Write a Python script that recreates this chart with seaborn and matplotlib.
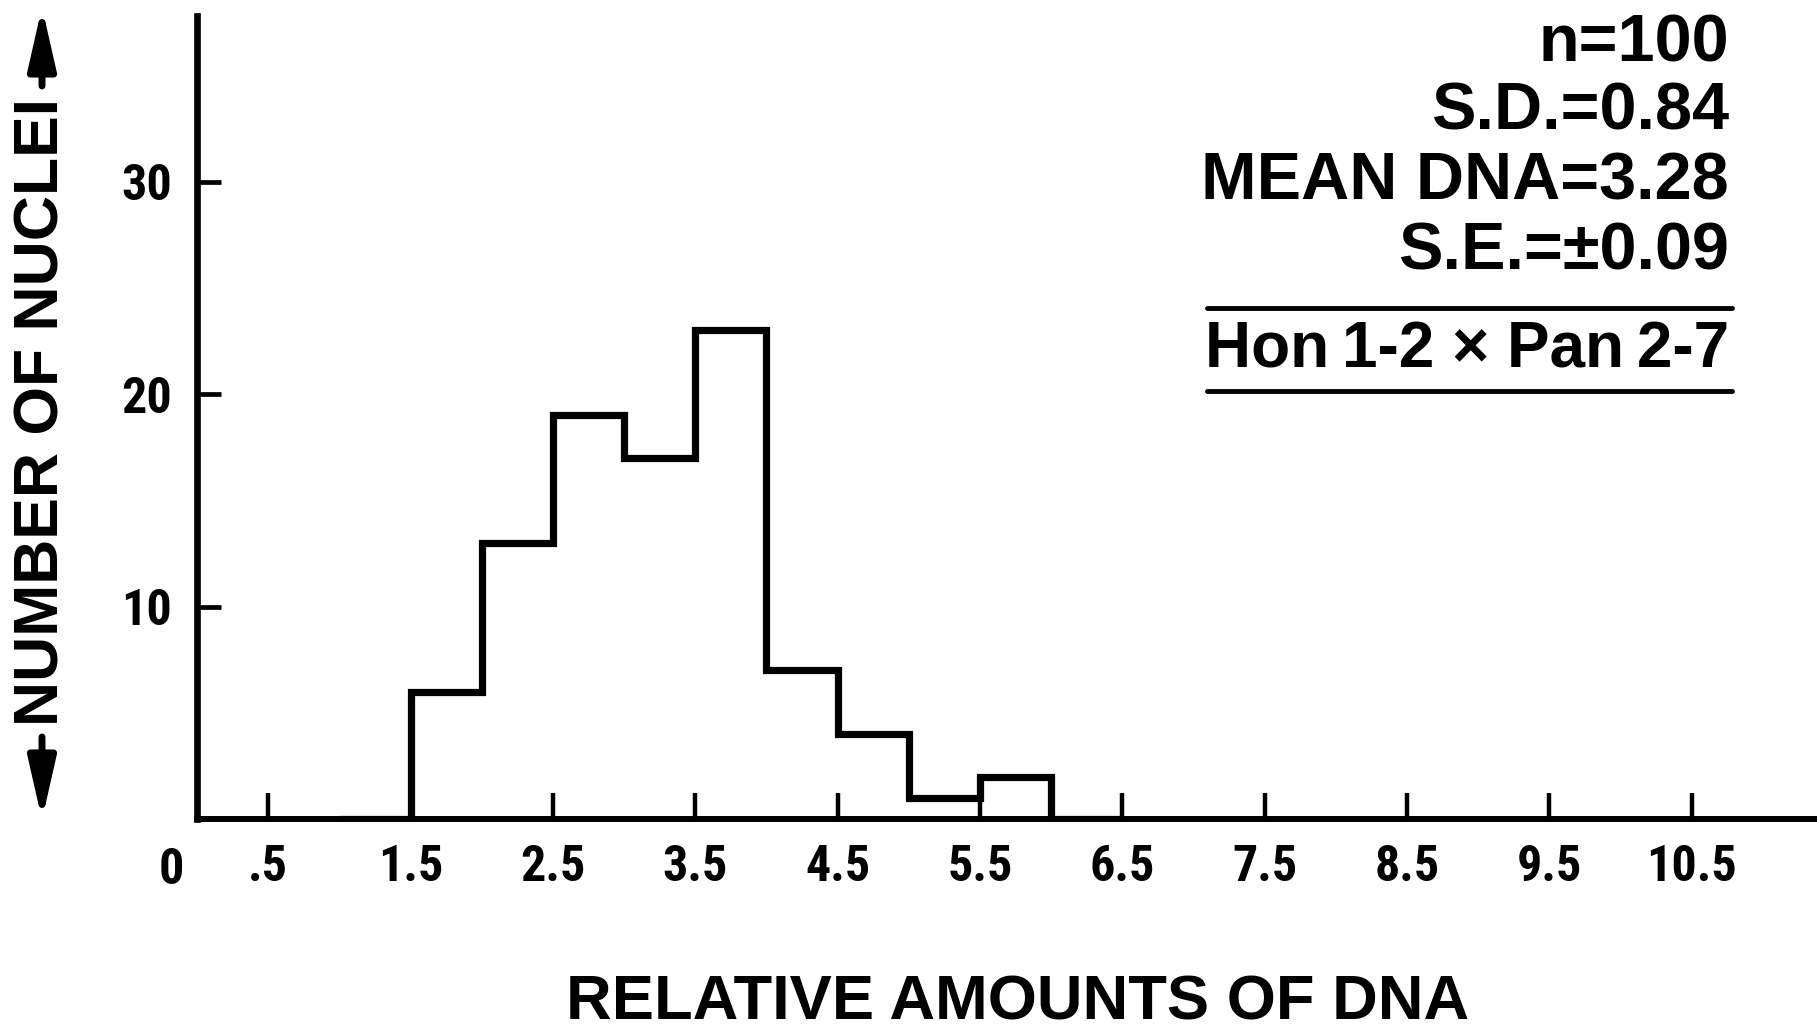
import numpy as np
import pandas as pd
import matplotlib
matplotlib.use("Agg")
import matplotlib.pyplot as plt
import matplotlib.transforms as mtransforms
from matplotlib import font_manager as fm
from matplotlib.lines import Line2D
import seaborn as sns

# ---------------- data ----------------
bin_edges = [1.0, 1.5, 2.0, 2.5, 3.0, 3.5, 4.0, 4.5, 5.0, 5.5, 6.0, 6.5]
bin_counts = [0, 6, 13, 19, 17, 23, 7, 4, 1, 2, 0]
x_tick_values = [0.5, 1.5, 2.5, 3.5, 4.5, 5.5, 6.5, 7.5, 8.5, 9.5, 10.5]
x_tick_labels = [".5", "1.5", "2.5", "3.5", "4.5", "5.5", "6.5", "7.5", "8.5", "9.5", "10.5"]
y_tick_values = [10, 20, 30]
y_tick_labels = ["10", "20", "30"]
origin_label = "0"
stats_lines = ["n=100", "S.D.=0.84", "MEAN DNA=3.28", "S.E.=\u00b10.09"]
cross_label = "Hon\u20091-2 \u00d7 Pan\u20092-7"
x_title = "RELATIVE AMOUNTS OF DNA"
y_title = "NUMBER OF NUCLEI"

# ---------------- style ----------------
sns.set_style("white")
plt.rcParams["font.family"] = ["Liberation Sans", "DejaVu Sans"]
for k in ["text.color", "axes.labelcolor", "xtick.color", "ytick.color", "axes.edgecolor"]:
    plt.rcParams[k] = "black"

names = {f.name for f in fm.fontManager.ttflist}
cond_font = None
for cand in ["Liberation Sans Narrow", "Roboto Condensed", "DejaVu Sans Condensed",
             "Open Sans Condensed", "Noto Sans Condensed"]:
    if cand in names:
        cond_font = cand
        break
if cond_font is not None:
    tick_family = [cond_font, "DejaVu Sans"]
    tick_size = 36
else:
    tick_family = ["Liberation Sans", "DejaVu Sans"]
    tick_size = 30

W, H = 1817, 1031
fig = plt.figure(figsize=(W / 100, H / 100), dpi=100)
fig.patch.set_facecolor("white")
ax = fig.add_axes([197 / W, 212 / H, 1620 / W, (819 - 16) / H])
ax.set_facecolor("white")

centers = [(a + b) / 2 for a, b in zip(bin_edges[:-1], bin_edges[1:])]
df = pd.DataFrame({"dna": centers, "count": bin_counts})
sns.histplot(data=df, x="dna", weights="count", bins=bin_edges, element="step",
             fill=False, color="black", linewidth=5.2, ax=ax)
for ln in ax.lines:
    ln.set_solid_joinstyle("miter")
    ln.set_solid_capstyle("butt")

ax.set_xlim(0, 11.38)
ax.set_ylim(0, 37.8)
for s in ["top", "right"]:
    ax.spines[s].set_visible(False)
ax.spines["left"].set_linewidth(4.8)
ax.spines["bottom"].set_linewidth(4.3)
ax.spines["left"].set_color("black")
ax.spines["bottom"].set_color("black")

ax.set_xticks(x_tick_values)
ax.set_xticklabels(x_tick_labels)
ax.set_yticks(y_tick_values)
ax.set_yticklabels(y_tick_labels)
ax.tick_params(axis="x", direction="in", length=19, width=3.2, color="black", pad=18,
               bottom=True, labelcolor="black")
ax.tick_params(axis="y", direction="in", length=17, width=3.4, color="black", pad=18,
               left=True, labelcolor="black")
for lab in ax.get_xticklabels() + ax.get_yticklabels():
    lab.set_family(tick_family)
    lab.set_fontsize(tick_size)
    lab.set_fontweight("bold")
ax.set_xlabel("")
ax.set_ylabel("")

# origin "0" label (no tick)
ax.text(-0.18, 0.0, origin_label,
        transform=ax.get_xaxis_transform() +
        mtransforms.ScaledTranslation(0, -20 / 72, fig.dpi_scale_trans),
        ha="center", va="top", family=tick_family, fontsize=tick_size,
        fontweight="bold", color="black")

# ---------------- stats block ----------------
right_x = 1729 / W
baselines = [62, 129, 199, 269]
for line, b in zip(stats_lines, baselines):
    fig.text(right_x, 1 - b / H, line, ha="right", va="baseline", fontsize=48,
             fontweight="bold", family=["Liberation Sans", "DejaVu Sans"], color="black")
fig.text(right_x, 1 - 367 / H, cross_label, ha="right", va="baseline", fontsize=46,
         fontweight="bold", family=["Liberation Sans", "DejaVu Sans"], color="black")
for yy in [308, 390.5]:
    fig.add_artist(Line2D([1207 / W, 1732 / W], [1 - yy / H, 1 - yy / H],
                          transform=fig.transFigure, color="black", lw=3.5))

# ---------------- titles ----------------
fig.text(0.560, 1 - 1003 / H, x_title, ha="center", va="center", fontsize=45.5,
         fontweight="bold", color="black")
fig.text(42 / W, 1 - 412 / H, y_title, ha="center", va="center", rotation=90,
         fontsize=45, fontweight="bold", color="black")

arrow_kw = dict(arrowstyle="-|>,head_length=1.85,head_width=0.42", lw=5, color="black",
                mutation_scale=20, shrinkA=0, shrinkB=0)
ax.annotate("", xy=(42 / W, 1 - 7 / H), xytext=(42 / W, 1 - 86 / H),
            xycoords="figure fraction", textcoords="figure fraction",
            arrowprops=arrow_kw, annotation_clip=False)
ax.annotate("", xy=(42 / W, 1 - 820 / H), xytext=(42 / W, 1 - 737 / H),
            xycoords="figure fraction", textcoords="figure fraction",
            arrowprops=arrow_kw, annotation_clip=False)

fig.savefig("out.png", dpi=100, facecolor="white")
